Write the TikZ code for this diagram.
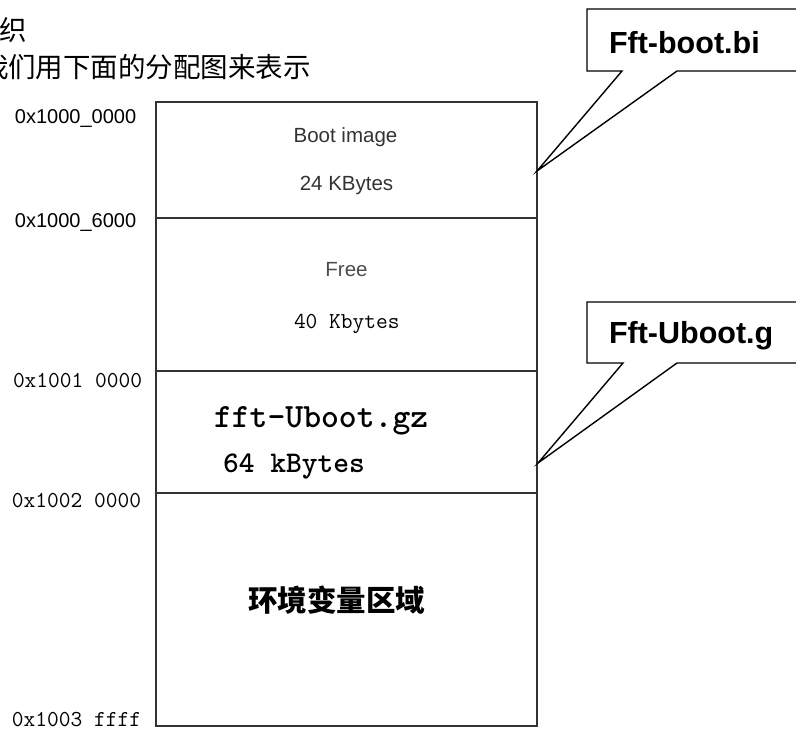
\documentclass[tikz,border=0pt]{standalone}
\usepackage{fontspec}
\setmainfont{Liberation Sans}
\newfontfamily\cjk{Noto Sans CJK SC}
\tikzset{
  memline/.style={draw=black!80, line width=1.5pt},
  callout/.style={draw=black, line width=1.4pt, fill=white, line join=miter},
  txt/.style={inner sep=0pt, outer sep=0pt},
}
\newcommand{\fs}[1]{\fontsize{#1}{#1}\selectfont}
\begin{document}
\begin{tikzpicture}[x=1pt,y=-1pt]
\useasboundingbox (0,0) rectangle (796,731);
\clip (0,0) rectangle (796,731);
% title text
\node[txt, anchor=west] (t1) at (-1,30) {\cjk\fs{27.5}织};
\node[txt, anchor=west] (t2) at (-19,67.5) {\cjk\fs{27.5}我们用下面的分配图来表示};
% memory map box
\coordinate (tl) at (156,102);
\coordinate (br) at (537,726);
\draw[memline] (tl) rectangle (br);
\coordinate (d1l) at (156,218); \coordinate (d1r) at (537,218);
\coordinate (d2l) at (156,371); \coordinate (d2r) at (537,371);
\coordinate (d3l) at (156,493); \coordinate (d3r) at (537,493);
\draw[memline] (d1l) -- (d1r);
\draw[memline] (d2l) -- (d2r);
\draw[memline] (d3l) -- (d3r);
% address labels
\node[txt, anchor=base west] (a0) at (15,123) {\fs{20}0x1000\_0000};
\node[txt, anchor=base west] (a1) at (15,227) {\fs{20}0x1000\_6000};
\node[txt, anchor=base west] (a2) at (13,387) {\ttfamily\fs{22.8}0x1001 0000};
\node[txt, anchor=base west] (a3) at (12,507) {\ttfamily\fs{22.8}0x1002 0000};
\node[txt, anchor=base west] (a4) at (12,726) {\ttfamily\fs{22.8}0x1003 ffff};
% region texts
\node[txt, anchor=base, text=black!80] (r1a) at (345.5,142) {\fs{20.5}Boot image};
\node[txt, anchor=base, text=black!80] (r1b) at (346.5,190) {\fs{20.5}24 KBytes};
\node[txt, anchor=base, text=black!70] (r2a) at (346.5,276) {\fs{20.5}Free};
\node[txt, anchor=base west] (r2b) at (294,328) {\ttfamily\fs{22.8}40 Kbytes};
\node[txt, anchor=base west] (r3a) at (214,427) {\ttfamily\bfseries\fs{34}fft-Uboot.gz};
\node[txt, anchor=base west] (r3b) at (223,472) {\ttfamily\bfseries\fs{30}64 kBytes};
\node[txt, anchor=center] (r4) at (336.5,600) {\cjk\bfseries\fs{29.5}环境变量区域};
% callout 1
\coordinate (tip1) at (537,171);
\draw[callout] (587,9) -- (800,9) -- (800,71) -- (677,71) -- (tip1) -- (622,71) -- (587,71) -- cycle;
\node[txt, anchor=base west] (c1) at (609,53) {\bfseries\fs{30.5}Fft-boot.bi};
% callout 2
\coordinate (tip2) at (538,463);
\draw[callout] (587,302) -- (800,302) -- (800,363) -- (677,363) -- (tip2) -- (623,363) -- (587,363) -- cycle;
\node[txt, anchor=base west] (c2) at (609,343) {\bfseries\fs{30.5}Fft-Uboot.g};
\end{tikzpicture}
\end{document}
